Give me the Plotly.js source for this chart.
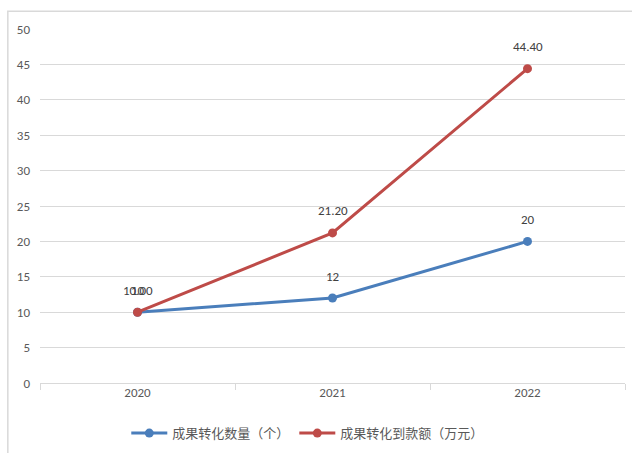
<!DOCTYPE html>
<html>
<head>
<meta charset="utf-8">
<script src="https://cdn.plot.ly/plotly-3.0.1.min.js"></script>
<style>body{margin:0;padding:0;background:#fff}#chart{width:632px;height:453px}</style>
</head>
<body>
<div id="chart"></div>
<script>
var years = ['2020', '2021', '2022'];
var countName = '成果转化数量（个）';
var countValues = [10, 12, 20];
var countLabels = ['10', '12', '20'];
var amountName = '成果转化到款额（万元）';
var amountValues = [10.00, 21.20, 44.40];
var amountLabels = ['10.00', '21.20', '44.40'];
var yTicks = [0, 5, 10, 15, 20, 25, 30, 35, 40, 45, 50];

var numFont = 'Calibri, Carlito, "Liberation Sans", "Noto Sans", sans-serif';
var labelFont = {family: numFont, size: 13, color: '#404040'};

var traces = [
  {
    x: years, y: countValues, name: countName, type: 'scatter', mode: 'lines+markers',
    line: {color: '#4a7ebb', width: 3}, marker: {color: '#4a7ebb', size: 9}
  },
  {
    x: years, y: amountValues, name: amountName, type: 'scatter', mode: 'lines+markers',
    line: {color: '#be4b48', width: 3}, marker: {color: '#be4b48', size: 9}
  }
];

var annotations = [];
function addLabels(vals, labels) {
  for (var i = 0; i < years.length; i++) {
    annotations.push({xref: 'x', yref: 'y', x: i, y: vals[i], text: labels[i], showarrow: false,
      yshift: 22, font: labelFont, xanchor: 'center', yanchor: 'middle'});
  }
}
addLabels(countValues, countLabels);
addLabels(amountValues, amountLabels);

var layout = {
  width: 632, height: 453,
  margin: {l: 40, r: 7, t: 29, b: 70},
  paper_bgcolor: '#fff', plot_bgcolor: '#fff',
  showlegend: true,
  font: {family: '"Noto Sans CJK SC", "Noto Sans", sans-serif', size: 12, color: '#595959'},
  xaxis: {
    type: 'category', range: [-0.5, 2.5], tickson: 'boundaries', ticks: 'outside',
    ticklen: 6, tickcolor: '#d9d9d9', showgrid: false, showline: false, zeroline: false,
    tickfont: {family: numFont, size: 13, color: '#595959'},
    fixedrange: true
  },
  yaxis: {
    range: [0, 50], tickvals: yTicks, showgrid: true, gridcolor: '#d9d9d9', gridwidth: 1,
    zeroline: true, zerolinecolor: '#d9d9d9', zerolinewidth: 1, showline: false,
    ticks: '', ticklabelstandoff: 9,
    tickfont: {family: numFont, size: 13, color: '#595959'},
    fixedrange: true
  },
  legend: {
    orientation: 'h', xref: 'container', yref: 'container',
    x: 0.487, xanchor: 'center', y: 0.077, yanchor: 'top',
    font: {family: '"Noto Sans CJK SC", sans-serif', size: 13, color: '#595959'},
    itemwidth: 36, tracegroupgap: 0
  },
  annotations: annotations,
  shapes: [
    {type: 'rect', xref: 'paper', yref: 'paper', x0: -0.055, x1: 1.05, y0: -0.25, y1: 1.05,
     line: {color: '#d9d9d9', width: 1.5}, layer: 'below'}
  ]
};

Plotly.newPlot('chart', traces, layout, {displayModeBar: false, staticPlot: true});
</script>
</body>
</html>
